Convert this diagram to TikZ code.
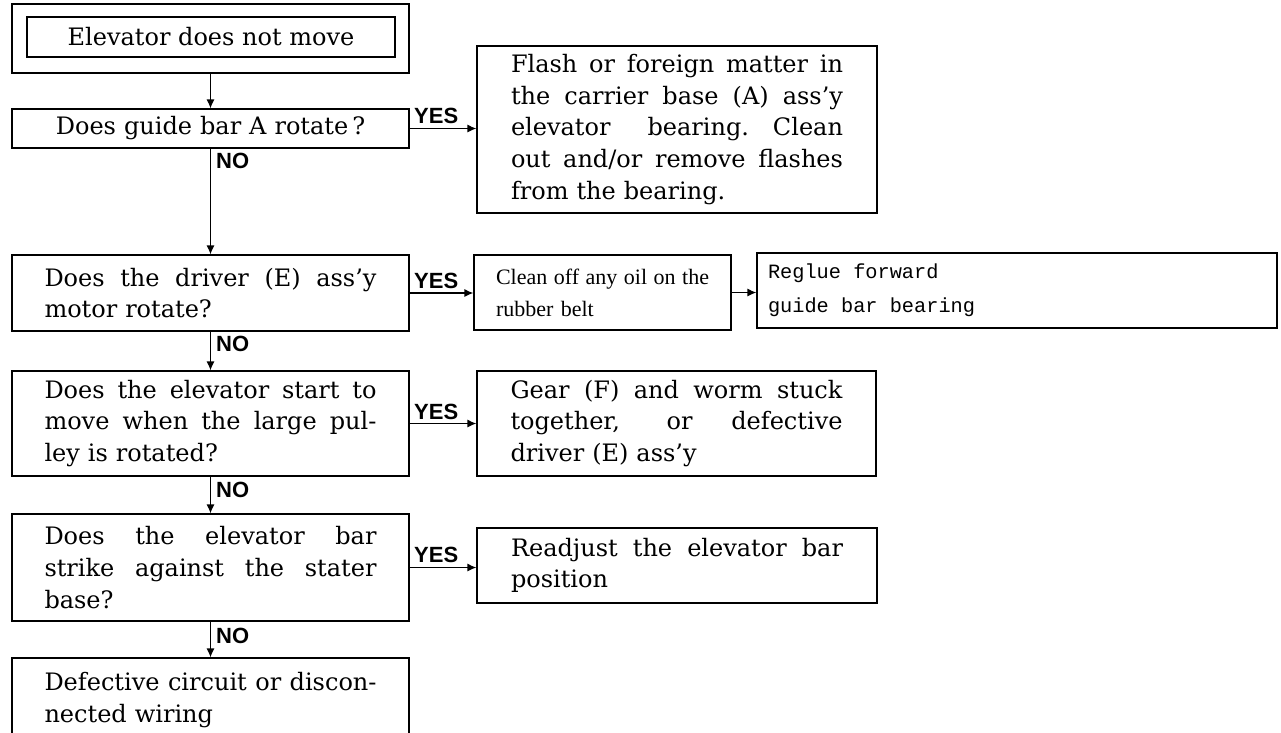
\documentclass[tikz,border=0pt]{standalone}
\usepackage{fontspec}
\setmainfont{DejaVu Serif}
\newfontfamily\labelfont{Liberation Sans}
\newfontfamily\narrowfont{Liberation Serif}
\newfontfamily\typefont{Liberation Mono}
\usetikzlibrary{arrows.meta}
\newcommand\jl[2]{\makebox[#1][s]{\spaceskip=0pt\xspaceskip=0pt\relax #2}}
\newcommand\bodysize{\fontsize{24}{31.7}\selectfont}
\begin{document}
\begin{tikzpicture}[x=1pt,y=-1pt,
  box/.style={draw, line width=1.2pt, inner sep=0pt, anchor=center, font=\bodysize},
  lbox/.style={box, minimum width=397pt, text width=332pt, align=left},
  rbox/.style={box, text width=332pt, align=left},
  arr/.style={line width=1.2pt, -{Latex[length=9pt,width=8pt]}},
  lab/.style={font=\labelfont\bfseries\fontsize{22}{22}\selectfont, inner sep=0pt}]
\useasboundingbox (0,0) rectangle (1281,732);

% start
\node[box, minimum width=397pt, minimum height=69pt] (outer) at (210.5,38.5) {};
\node[box, minimum width=368pt, minimum height=40pt] (start) at (211,37) {Elevator does not move};

% questions
\node[lbox, minimum height=39pt, align=center] (q1) at (210.5,128.5) {Does guide bar A rotate\,?};
\node[lbox, minimum height=76pt] (q2) at (210.5,293) {\jl{332pt}{Does the driver (E) ass’y}\\motor rotate?};
\node[lbox, minimum height=105pt] (q3) at (210.5,423.5) {\jl{332pt}{Does the elevator start to}\\\jl{332pt}{move when the large pul-}\\ley is rotated?};
\node[lbox, minimum height=107pt] (q4) at (210.5,567.5) {\jl{332pt}{Does the elevator bar}\\\jl{332pt}{strike against the stater}\\base?};
\node[lbox, minimum height=84pt] (q5) at (210.5,700) {\jl{332pt}{Defective circuit or discon-}\\nected wiring};

% answers
\node[rbox, minimum width=400pt, minimum height=167pt] (a1) at (677,129.5) {\jl{332pt}{Flash or foreign matter in}\\\jl{332pt}{the carrier base (A) ass’y}\\\jl{332pt}{elevator bearing.\quad Clean}\\\jl{332pt}{out and/or remove flashes}\\from the bearing.};
\node[box, minimum width=257pt, minimum height=75pt, text width=213pt, align=left, font=\narrowfont\fontsize{22}{32}\selectfont] (a2) at (602.5,292.5) {\jl{213pt}{Clean off any oil on the}\\rubber belt};
\node[box, minimum width=520pt, minimum height=75pt, text width=498pt, align=left, font=\typefont\fontsize{20.3}{34}\selectfont] (a2b) at (1017,290.5) {\spaceskip=0pt\xspaceskip=0pt\relax Reglue forward\\guide bar bearing};
\node[rbox, minimum width=399pt, minimum height=105pt] (a3) at (676.5,423.5) {\jl{332pt}{Gear (F) and worm stuck}\\\jl{332pt}{together, or defective}\\driver (E) ass’y};
\node[rbox, minimum width=400pt, minimum height=75pt] (a4) at (677,565.5) {\jl{332pt}{Readjust the elevator bar}\\position};

% vertical connectors
\draw[arr] (outer.south) -- (q1.north);
\draw[arr] (q1.south) -- (q2.north);
\draw[arr] (q2.south) -- (q3.north);
\draw[arr] (q3.south) -- (q4.north);
\draw[arr] (q4.south) -- (q5.north);

% horizontal connectors
\draw[arr] (q1.east) -- (a1.west |- q1.east);
\draw[arr] (q2.east) -- (a2.west |- q2.east);
\draw[arr] (q3.east) -- (a3.west |- q3.east);
\draw[arr] (q4.east) -- (a4.west |- q4.east);
\draw[arr] (a2.east) -- (a2b.west |- a2.east);

% labels
\node[lab, anchor=south west] (y1) at (414,124) {YES};
\node[lab, anchor=south west] (y2) at (414,289) {YES};
\node[lab, anchor=south west] (y3) at (414,420) {YES};
\node[lab, anchor=south west] (y4) at (414,563) {YES};
\node[lab, anchor=north west] (n1) at (216,153) {NO};
\node[lab, anchor=north west] (n2) at (216,336) {NO};
\node[lab, anchor=north west] (n3) at (216,482) {NO};
\node[lab, anchor=north west] (n4) at (216,628) {NO};
\end{tikzpicture}
\end{document}
